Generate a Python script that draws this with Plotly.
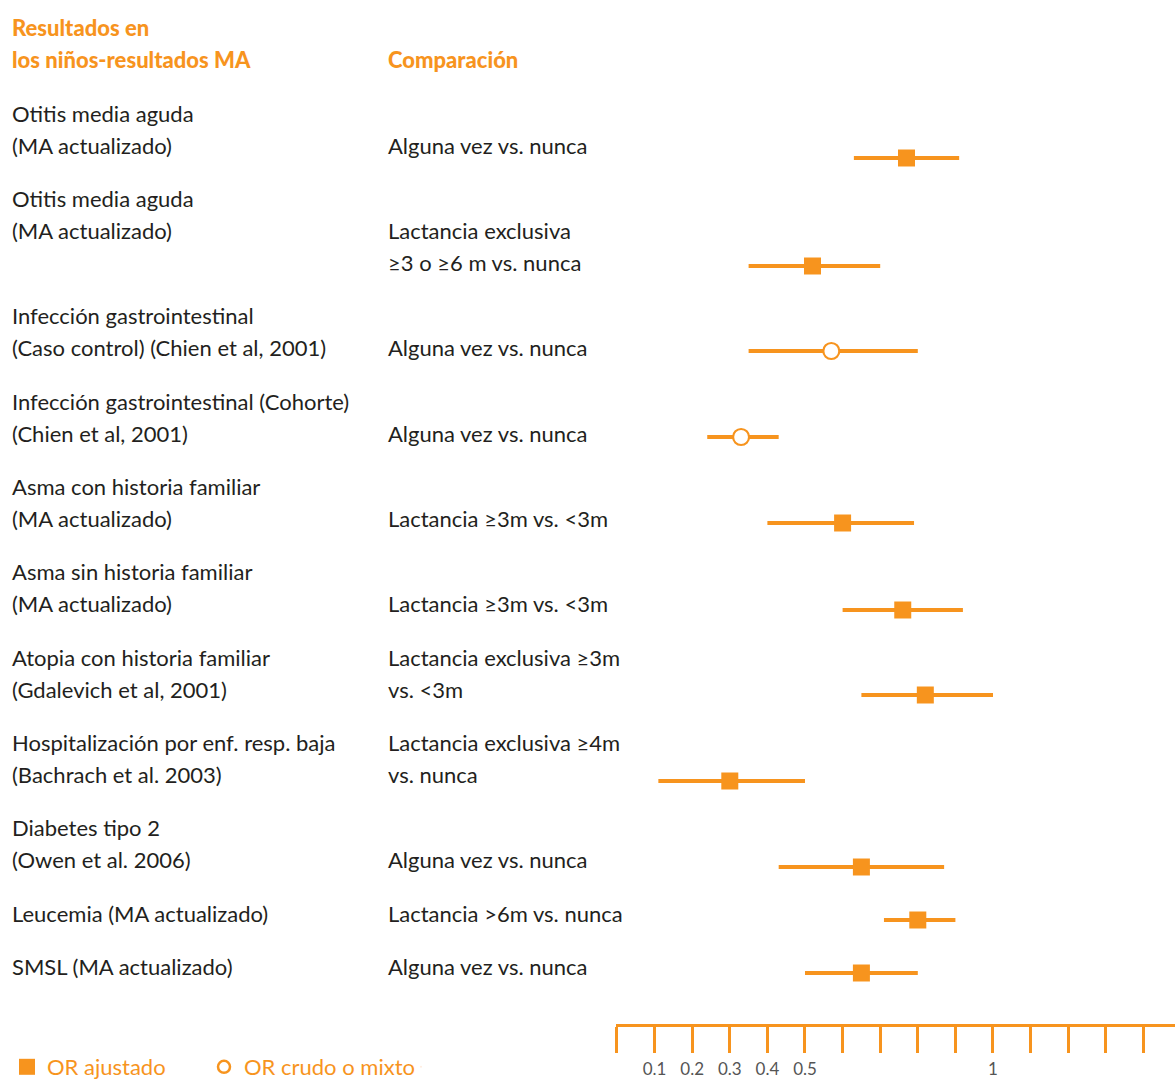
import plotly.graph_objects as go

# Odds ratios (point estimate and 95% CI) for child outcomes
outcomes = [
    ["Otitis media aguda", "(MA actualizado)"],
    ["Otitis media aguda", "(MA actualizado)"],
    ["Infección gastrointestinal", "(Caso control) (Chien et al, 2001)"],
    ["Infección gastrointestinal (Cohorte)", "(Chien et al, 2001)"],
    ["Asma con historia familiar", "(MA actualizado)"],
    ["Asma sin historia familiar", "(MA actualizado)"],
    ["Atopia con historia familiar", "(Gdalevich et al, 2001)"],
    ["Hospitalización por enf. resp. baja", "(Bachrach et al. 2003)"],
    ["Diabetes tipo 2", "(Owen et al. 2006)"],
    ["Leucemia (MA actualizado)"],
    ["SMSL (MA actualizado)"],
]
comparisons = [
    ["Alguna vez vs. nunca"],
    ["Lactancia exclusiva", "≥3 o ≥6 m vs. nunca"],
    ["Alguna vez vs. nunca"],
    ["Alguna vez vs. nunca"],
    ["Lactancia ≥3m vs. <3m"],
    ["Lactancia ≥3m vs. <3m"],
    ["Lactancia exclusiva ≥3m", "vs. <3m"],
    ["Lactancia exclusiva ≥4m", "vs. nunca"],
    ["Alguna vez vs. nunca"],
    ["Lactancia >6m vs. nunca"],
    ["Alguna vez vs. nunca"],
]
or_value = [0.77, 0.52, 0.57, 0.33, 0.60, 0.76, 0.82, 0.30, 0.65, 0.80, 0.65]
ci_low = [0.63, 0.35, 0.35, 0.24, 0.40, 0.60, 0.65, 0.11, 0.43, 0.71, 0.50]
ci_high = [0.91, 0.70, 0.80, 0.43, 0.79, 0.92, 1.00, 0.50, 0.87, 0.90, 0.80]
# True -> adjusted OR (filled square), False -> crude or mixed OR (open circle)
adjusted = [True, True, False, False, True, True, True, True, True, True, True]

tick_values = [0.1, 0.2, 0.3, 0.4, 0.5, 1]
tick_labels = ["0.1", "0.2", "0.3", "0.4", "0.5", "1"]

# Page layout (pixel rows, top-down)
W, H = 1175, 1082
label_row_y = [113, 198, 315, 401, 486, 571, 657, 742, 827, 913, 966]
comp_row_y = [145, 230, 347, 433, 518, 603, 657, 742, 859, 913, 966]
mark_row_y = [158, 266, 351, 437, 523, 610, 695, 781, 867, 920, 973]
LINE = 32
AXIS_Y = 1025
X0_PX, PX_PER_UNIT = 617, 376

ORANGE = "#F7941E"
DARK = "#231F20"
FONT = "Lato, sans-serif"
TEXT_SIZE = 22

fig = go.Figure()

for is_adj in (True, False):
    idx = [i for i, a in enumerate(adjusted) if a == is_adj]
    fig.add_trace(go.Scatter(
        x=[or_value[i] for i in idx],
        y=[mark_row_y[i] for i in idx],
        mode="markers",
        showlegend=False,
        error_x=dict(
            type="data", symmetric=False,
            array=[ci_high[i] - or_value[i] for i in idx],
            arrayminus=[or_value[i] - ci_low[i] for i in idx],
            color=ORANGE, thickness=4, width=0,
        ),
        marker=dict(
            symbol="square" if is_adj else "circle",
            size=17 if is_adj else 16,
            color=ORANGE if is_adj else "white",
            line=dict(color=ORANGE, width=0 if is_adj else 2.2),
        ),
    ))

# Legend entries
fig.add_trace(go.Scatter(
    x=[None], y=[None], mode="markers", name="OR ajustado",
    marker=dict(symbol="square", size=16, color=ORANGE, line=dict(width=0)),
))
fig.add_trace(go.Scatter(
    x=[None], y=[None], mode="markers", name="OR crudo o mixto",
    marker=dict(symbol="circle-open", size=12, color=ORANGE, line=dict(width=2.5)),
))
# blank slot so the last legend label keeps its full width
fig.add_trace(go.Scatter(
    x=[None], y=[None], mode="markers", name="\u00a0",
    marker=dict(size=1, opacity=0),
))

annotations = []


def add_text(x_px, y_px, text, color=DARK, size=TEXT_SIZE, weight="normal"):
    annotations.append(dict(
        xref="paper", yref="y", x=x_px / W, y=y_px,
        text=text,
        showarrow=False, xanchor="left", yanchor="middle",
        font=dict(family=FONT, size=size, color=color, weight=weight),
    ))


add_text(10, 27, "Resultados en", ORANGE, weight=900)
add_text(10, 59, "los niños-resultados MA", ORANGE, weight=900)
add_text(386, 59, "Comparación", ORANGE, weight=900)

for lines, y0 in zip(outcomes, label_row_y):
    for k, line in enumerate(lines):
        add_text(10, y0 + k * LINE, line)
for lines, y0 in zip(comparisons, comp_row_y):
    for k, line in enumerate(lines):
        add_text(386, y0 + k * LINE, line)

x_left = -0.002
x_right = (W - X0_PX) / PX_PER_UNIT

fig.update_layout(
    width=W, height=H,
    margin=dict(l=0, r=0, t=0, b=0, autoexpand=False),
    paper_bgcolor="white", plot_bgcolor="white",
    annotations=annotations,
    xaxis=dict(
        domain=[(X0_PX + x_left * PX_PER_UNIT) / W, 1],
        range=[x_left, x_right],
        anchor="free", position=(H - AXIS_Y) / H,
        showgrid=False, zeroline=False, automargin=False,
        showline=True, linecolor=ORANGE, linewidth=3,
        tickmode="array", tickvals=tick_values, ticktext=tick_labels,
        ticks="outside", ticklen=26, tickwidth=3, tickcolor=ORANGE,
        ticklabelstandoff=2,
        tickfont=dict(family=FONT, size=17, color="#555555"),
        minor=dict(tick0=0, dtick=0.1, ticks="outside", ticklen=26,
                   tickwidth=3, tickcolor=ORANGE, showgrid=False),
    ),
    yaxis=dict(
        domain=[0, 1], range=[H, 0], visible=False,
        showgrid=False, zeroline=False, automargin=False,
    ),
    showlegend=True,
    legend=dict(
        orientation="h", x=7 / W, xanchor="left",
        y=(H - 1067) / H, yanchor="middle",
        font=dict(family=FONT, size=TEXT_SIZE, color=ORANGE),
        entrywidth=152, entrywidthmode="pixels",
        bgcolor="rgba(0,0,0,0)", itemclick=False,
    ),
)

fig.write_html("out.html")
